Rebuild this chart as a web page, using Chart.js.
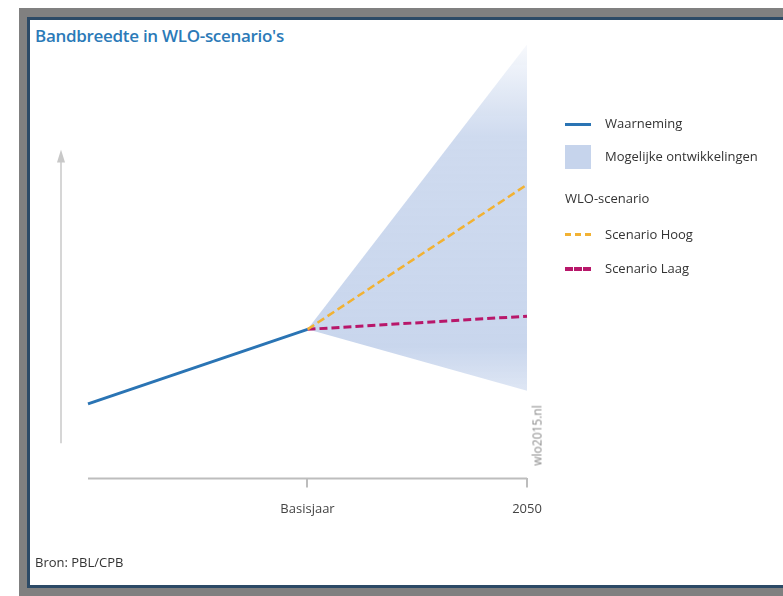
<!DOCTYPE html>
<html>
<head>
<meta charset="utf-8">
<script src="https://cdn.jsdelivr.net/npm/chart.js@4.4.0/dist/chart.umd.min.js"></script>
<style>
  body { margin: 0; width: 783px; height: 596px; overflow: hidden; background: #fff; position: relative; font-family: "Open Sans", sans-serif; }
  #frame { position: absolute; left: 19px; top: 8px; width: 764px; height: 588px; background: #808080; }
  #panel { position: absolute; left: 27px; top: 17px; width: 756px; height: 571px; box-sizing: border-box; border: 3px solid #2c4a66; border-right: none; background: #fff; }
  #title { position: absolute; left: 35px; top: 24px; font-size: 17px; font-weight: 600; color: #2b7ab8; letter-spacing: -0.3px; }
  #source { position: absolute; left: 35px; top: 553px; font-size: 13px; color: #333; }
  #mark { position: absolute; left: 482px; top: 427px; width: 110px; text-align: center; font-size: 12px; font-weight: 400; color: #8a8a8a; transform: rotate(-90deg); }
  canvas { position: absolute; left: 0; top: 0; }
  .lg { position: absolute; font-size: 13px; color: #333; white-space: nowrap; }
  .sw { position: absolute; left: 565px; width: 26px; }
</style>
</head>
<body>
<div id="frame"></div>
<div id="panel"></div>
<div id="title">Bandbreedte in WLO-scenario's</div>
<canvas id="myChart" width="783" height="596"></canvas>
<div id="mark">wlo2015.nl</div>
<div id="source">Bron: PBL/CPB</div>

<div class="sw" style="top:123px;height:0;border-top:3px solid #2a74b4"></div>
<div class="lg" style="left:605px;top:114px">Waarneming</div>
<div class="sw" style="top:145px;height:24px;background:#c6d4ec"></div>
<div class="lg" style="left:605px;top:147px">Mogelijke ontwikkelingen</div>
<div class="lg" style="left:565px;top:189px">WLO-scenario</div>
<div class="sw" style="top:233px;height:0;border-top:3px dashed #f2b233"></div>
<div class="lg" style="left:605px;top:225px">Scenario Hoog</div>
<div class="sw" style="top:267px;height:0;border-top:4px dashed #b8176a"></div>
<div class="lg" style="left:605px;top:259px">Scenario Laag</div>

<script>
var xLabels = ["Basisjaar", "2050"];
var histX = [0, 1];
var futX = [1, 2];
var waarneming = [17, 34];
var scenarioHoog = [34, 67];
var scenarioLaag = [34, 37];
var bandHigh = [34, 99];
var bandLow = [34, 20];

function pts(xs, ys) {
  var out = [];
  for (var i = 0; i < xs.length; i++) {
    out.push({ x: xs[i], y: ys[i] });
  }
  return out;
}

function bandFill(ctx) {
  var area = ctx.chart.chartArea;
  if (!area) return "rgba(198,212,236,0.9)";
  var g = ctx.chart.ctx.createLinearGradient(0, area.top, 0, area.bottom);
  g.addColorStop(0, "rgba(198,212,236,0.1)");
  g.addColorStop(0.22, "rgba(198,212,236,0.85)");
  g.addColorStop(0.7, "rgba(198,212,236,0.95)");
  g.addColorStop(0.82, "rgba(198,212,236,0.5)");
  return g;
}

// axis line and arrow, drawn from the scales
var axisPlugin = {
  id: "axisPlugin",
  beforeDatasetsDraw: function(chart) {
    var c = chart.ctx;
    var xs = chart.scales.x, ys = chart.scales.y;
    var yb = chart.chartArea.bottom;
    c.save();
    c.strokeStyle = "#bdbdbd";
    c.lineWidth = 2;
    c.beginPath();
    c.moveTo(xs.getPixelForValue(0), yb);
    c.lineTo(xs.getPixelForValue(2), yb);
    c.stroke();

    var ax = chart.chartArea.left;
    var top = ys.getPixelForValue(75);
    c.strokeStyle = "#d6d6d6";
    c.lineWidth = 2;
    c.beginPath();
    c.moveTo(ax, ys.getPixelForValue(8));
    c.lineTo(ax, top + 8);
    c.stroke();
    c.fillStyle = "#c8c8c8";
    c.beginPath();
    c.moveTo(ax, top);
    c.lineTo(ax - 4, top + 13);
    c.lineTo(ax + 4, top + 13);
    c.closePath();
    c.fill();
    c.restore();
  }
};

new Chart("myChart", {
  type: "line",
  data: {
    datasets: [
      { label: "Waarneming", data: pts(histX, waarneming), borderColor: "#2a74b4", borderWidth: 3, pointRadius: 0, fill: false, clip: false },
      { label: "Scenario Hoog", data: pts(futX, scenarioHoog), borderColor: "#f2b233", borderWidth: 2.5, borderDash: [8, 4], pointRadius: 0, fill: false, clip: false },
      { label: "Scenario Laag", data: pts(futX, scenarioLaag), borderColor: "#b8176a", borderWidth: 3, borderDash: [8, 4], pointRadius: 0, fill: false, clip: false },
      { label: "band laag", data: pts(futX, bandLow), borderWidth: 0, pointRadius: 0, fill: false, clip: false },
      { label: "Mogelijke ontwikkelingen", data: pts(futX, bandHigh), borderWidth: 0, pointRadius: 0, fill: "-1", backgroundColor: bandFill, clip: false }
    ]
  },
  options: {
    responsive: false,
    animation: false,
    layout: { padding: { left: 61, right: 256, top: 40, bottom: 65 } },
    plugins: { legend: { display: false }, tooltip: { enabled: false } },
    scales: {
      x: {
        type: "linear", min: -0.123, max: 2,
        afterBuildTicks: function(s) { s.ticks = [{ value: 1 }, { value: 2 }]; },
        ticks: {
          callback: function(v) { return xLabels[v - 1]; },
          color: "#444", font: { family: "Open Sans", size: 13 }, padding: 14, maxRotation: 0
        },
        grid: { drawOnChartArea: false, color: "#bdbdbd", tickLength: 9, lineWidth: 2 },
        border: { display: false }
      },
      y: { display: false, min: 0, max: 100 }
    }
  },
  plugins: [axisPlugin]
});
</script>
</body>
</html>
